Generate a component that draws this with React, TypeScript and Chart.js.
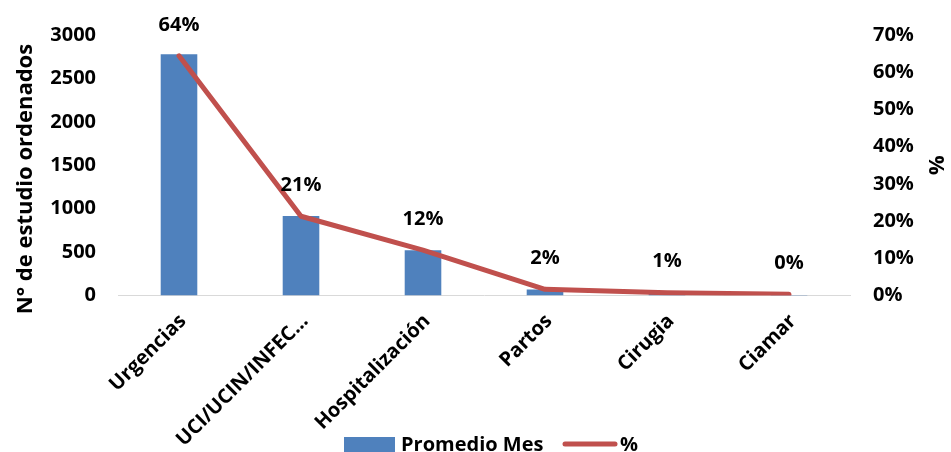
import React, { useEffect, useRef } from "react";
import { Chart, registerables } from "chart.js";

Chart.register(...registerables);

const categories = ["Urgencias", "UCI/UCIN/INFEC...", "Hospitalización", "Partos", "Cirugia", "Ciamar"];
const promedioMes = [2778, 915, 522, 70, 32, 5];
const porcentaje = [0.644, 0.213, 0.122, 0.0166, 0.0075, 0.0032];
const leftMax = 3000;
const leftStep = 500;
const rightMax = 0.7;
const rightStep = 0.1;
const leftTitle = "N° de estudio ordenados";

const BAR_COLOR = "#4F81BD";
const LINE_COLOR = "#C0504D";
const FONT = "'Open Sans', 'Liberation Sans', sans-serif";

const pctLabel = (v: number) => Math.round(v * 100) + "%";

const dataLabelPlugin = {
  id: "dataLabels",
  afterDatasetsDraw(chart: any) {
    const meta = chart.getDatasetMeta(1);
    const ctx = chart.ctx;
    ctx.save();
    ctx.font = `bold 20px ${FONT}`;
    ctx.fillStyle = "#000";
    ctx.textAlign = "center";
    ctx.textBaseline = "middle";
    meta.data.forEach((pt: any, i: number) => {
      ctx.fillText(pctLabel(porcentaje[i]), pt.x, pt.y - 31);
    });
    ctx.restore();
  },
};

const titlePlugin = {
  id: "leftTitle",
  afterDraw(chart: any) {
    const ctx = chart.ctx;
    ctx.save();
    ctx.font = `bold 22px ${FONT}`;
    ctx.fillStyle = "#000";
    ctx.textAlign = "center";
    ctx.textBaseline = "middle";
    ctx.translate(26, 179);
    ctx.rotate(-Math.PI / 2);
    ctx.fillText(leftTitle, 0, 0);
    ctx.restore();
  },
};

const legendPlugin = {
  id: "customLegend",
  afterDraw(chart: any) {
    const ctx = chart.ctx;
    ctx.save();
    ctx.font = `bold 20px ${FONT}`;
    ctx.textBaseline = "middle";
    ctx.textAlign = "left";
    const y = 445;
    ctx.fillStyle = BAR_COLOR;
    ctx.fillRect(344, 437, 51, 16);
    ctx.fillStyle = "#000";
    ctx.fillText(chart.data.datasets[0].label, 401, y);
    ctx.strokeStyle = LINE_COLOR;
    ctx.lineWidth = 5;
    ctx.lineCap = "round";
    ctx.beginPath();
    ctx.moveTo(565, 444);
    ctx.lineTo(615, 444);
    ctx.stroke();
    ctx.fillText(chart.data.datasets[1].label, 620, y);
    ctx.restore();
  },
};

export default function App() {
  const ref = useRef<HTMLCanvasElement>(null);
  useEffect(() => {
    document.body.style.margin = "0";
    const chart = new Chart(ref.current!, {
      type: "bar",
      data: {
        labels: categories,
        datasets: [
          {
            type: "bar",
            label: "Promedio Mes",
            data: promedioMes,
            backgroundColor: BAR_COLOR,
            yAxisID: "y",
            barPercentage: 0.3,
            categoryPercentage: 1,
            order: 1,
          },
          {
            type: "line",
            label: "%",
            data: porcentaje,
            borderColor: LINE_COLOR,
            backgroundColor: LINE_COLOR,
            borderWidth: 5,
            pointRadius: 0,
            tension: 0,
            borderCapStyle: "round",
            borderJoinStyle: "round",
            yAxisID: "y1",
            order: 0,
          } as any,
        ],
      },
      options: {
        animation: false,
        responsive: true,
        maintainAspectRatio: false,
        layout: { padding: { top: 34, bottom: 0, left: 0, right: 0 } },
        plugins: { legend: { display: false }, tooltip: { enabled: false } },
        scales: {
          x: {
            grid: { display: false, drawTicks: false },
            border: { display: true, color: "#D9D9D9", width: 1 },
            ticks: {
              color: "#000",
              font: { family: FONT, size: 20, weight: "bold" },
              minRotation: 45,
              maxRotation: 45,
              padding: 14,
              labelOffset: 4,
              autoSkip: false,
            },
            afterFit(scale: any) {
              scale.height = 452 - 295.5;
            },
          },
          y: {
            position: "left",
            min: 0,
            max: leftMax,
            ticks: {
              stepSize: leftStep,
              color: "#000",
              font: { family: FONT, size: 20, weight: "bold" },
              padding: 22,
              callback: (v: any) => String(v),
            },
            grid: { display: false, drawTicks: false },
            border: { display: false },
            afterFit(scale: any) {
              scale.width = 118;
            },
          },
          y1: {
            position: "right",
            min: 0,
            max: rightMax,
            ticks: {
              stepSize: rightStep,
              color: "#000",
              font: { family: FONT, size: 20, weight: "bold" },
              padding: 23,
              callback: (v: any) => pctLabel(Number(v)),
            },
            grid: { display: false, drawTicks: false, drawOnChartArea: false },
            border: { display: false },
            title: {
              display: true,
              text: "%",
              color: "#000",
              font: { family: FONT, size: 22, weight: "bold" },
              padding: { top: 3, bottom: 0 },
            },
            afterFit(scale: any) {
              scale.width = 101;
            },
          },
        },
      } as any,
      plugins: [dataLabelPlugin, titlePlugin, legendPlugin],
    });
    return () => chart.destroy();
  }, []);
  return (
    <div style={{ position: "relative", width: 951, height: 452 }}>
      <canvas ref={ref} />
    </div>
  );
}
